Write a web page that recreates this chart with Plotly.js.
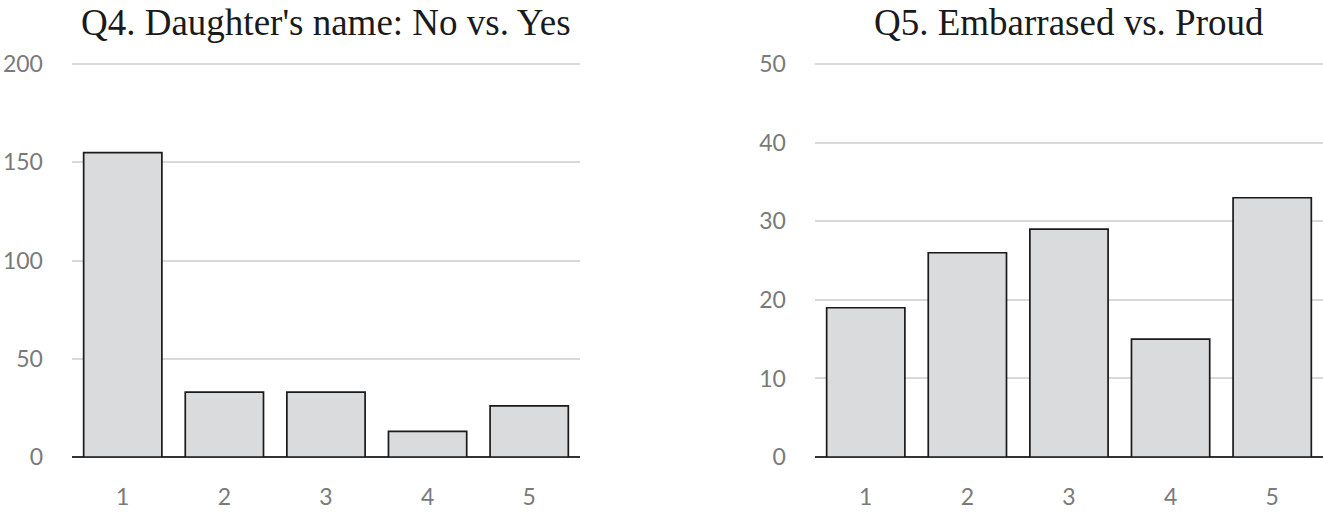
<!DOCTYPE html>
<html>
<head>
<meta charset="utf-8">
<script src="https://cdn.plot.ly/plotly-3.0.1.min.js"></script>
<style>html,body{margin:0;padding:0;background:#fff;}#chart{width:1323px;height:513px;}</style>
</head>
<body>
<div id="chart"></div>
<script>
const categories = ["1", "2", "3", "4", "5"];
const q4Values = [155, 33, 33, 13, 26];
const q5Values = [19, 26, 29, 15, 33];
const q4Title = "Q4. Daughter's name: No vs. Yes";
const q5Title = "Q5. Embarrased vs. Proud";
const q4Ticks = [0, 50, 100, 150, 200];
const q5Ticks = [0, 10, 20, 30, 40, 50];

const barStyle = {color: '#dadbdd', line: {color: '#1a1a1a', width: 1.7}};
const tickFont = {family: 'Lato, "Open Sans", sans-serif', size: 23, color: '#7a7a7a'};
const titleFont = {family: '"Liberation Serif", "Times New Roman", serif', size: 37, color: '#1a1a1a'};

const traces = [
  {type: 'bar', x: categories, y: q4Values, xaxis: 'x', yaxis: 'y', marker: barStyle, hoverinfo: 'none'},
  {type: 'bar', x: categories, y: q5Values, xaxis: 'x2', yaxis: 'y2', marker: barStyle, hoverinfo: 'none'}
];

const xCommon = {type: 'category', showgrid: false, zeroline: false, showline: false, ticks: '', tickfont: tickFont, ticklabelstandoff: 24, fixedrange: true};
const yCommon = {showgrid: true, gridcolor: '#d9d9d9', gridwidth: 2, zeroline: true, zerolinecolor: '#333333', zerolinewidth: 1.8, showline: false, ticks: '', tickfont: tickFont, ticklabelstandoff: 28, fixedrange: true, tickmode: 'array'};

const layout = {
  width: 1323, height: 513,
  margin: {l: 0, r: 0, t: 63, b: 56},
  paper_bgcolor: '#ffffff', plot_bgcolor: '#ffffff',
  showlegend: false,
  bargap: 0.23,
  xaxis: Object.assign({}, xCommon, {domain: [0.0544, 0.4384], anchor: 'y'}),
  yaxis: Object.assign({}, yCommon, {range: [0, 200.6], tickvals: q4Ticks, anchor: 'x'}),
  xaxis2: Object.assign({}, xCommon, {domain: [0.616, 1.0], anchor: 'y2'}),
  yaxis2: Object.assign({}, yCommon, {range: [0, 50.15], tickvals: q5Ticks, anchor: 'x2'}),
  annotations: [
    {text: q4Title, xref: 'paper', yref: 'paper', x: (0.0544 + 0.4384) / 2, y: 1, yshift: 41, xanchor: 'center', yanchor: 'middle', showarrow: false, font: titleFont},
    {text: q5Title, xref: 'paper', yref: 'paper', x: (0.616 + 1.0) / 2, y: 1, yshift: 41, xanchor: 'center', yanchor: 'middle', showarrow: false, font: titleFont}
  ]
};

Plotly.newPlot('chart', traces, layout, {displayModeBar: false, staticPlot: true});
</script>
</body>
</html>
